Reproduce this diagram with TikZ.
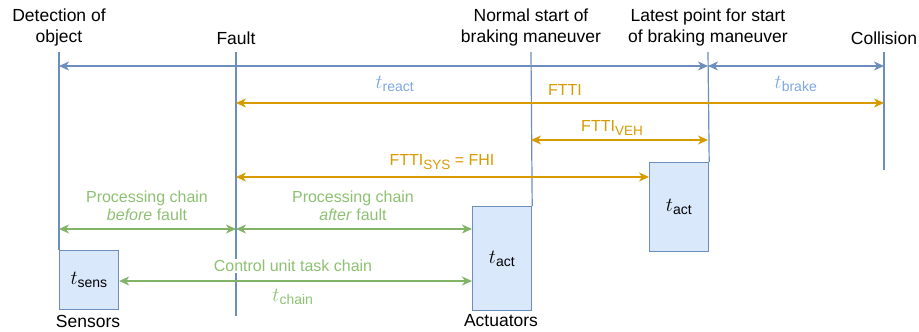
\RequirePackage{fix-cm}
\documentclass[tikz,border=0pt]{standalone}
\usepackage{fontspec}
\setmainfont{Liberation Sans}
\usepackage{amsmath}
\usetikzlibrary{arrows.meta}

\definecolor{lineblue}{HTML}{6C8EBF}
\definecolor{boxblue}{HTML}{DAE8FC}
\definecolor{timeblue}{HTML}{7EA6E0}
\definecolor{fttiorange}{HTML}{D79B00}
\definecolor{chaingreen}{HTML}{82B366}
\definecolor{chaintext}{HTML}{8DC172}

% lowered, slightly smaller index as in FTTI_VEH
\newcommand{\lowidx}[1]{\raisebox{-4pt}{\fontsize{13.5}{14}\selectfont #1}}

\tikzset{
  tip/.tip={Stealth[length=10pt,width=9pt,inset=3pt]},
  timeline/.style={draw=lineblue, line width=1.2pt},
  span/.style={line width=1.2pt, tip-tip},
  unitbox/.style={draw=lineblue, fill=boxblue, line width=1.2pt, anchor=north west,
    minimum width=59pt, inner sep=0pt, font=\fontsize{20}{22}\selectfont},
  event/.style={align=center, font=\fontsize{17.5}{21}\selectfont},
  lbl/.style={align=center, font=\fontsize{16}{18.5}\selectfont},
  timelbl/.style={font=\fontsize{20}{22}\selectfont},
}

\begin{document}
\begin{tikzpicture}[x=1pt, y=-1pt]
  \useasboundingbox (0,0) rectangle (919,332);

  % Boxes for sensors and actuators
  \node[unitbox, minimum height=59pt] (sens) at (59,250) {$t_{\text{sens}}$};
  \node[unitbox, minimum height=104pt] (act) at (472,206) {$t_{\text{act}}$};
  \node[unitbox, minimum height=89pt] (actlate) at (649,162) {$t_{\text{act}}$};

  % Events along the time axis
  \node[event] (detect) at (59,27) {Detection of\\object};
  \node[event] (fault) at (236,38) {Fault};
  \node[event] (normal) at (531,27) {Normal start of\\braking maneuver};
  \node[event] (latest) at (708,27) {Latest point for start\\of braking maneuver};
  \node[event] (collision) at (884,38) {Collision};

  \coordinate (dtop) at (59,52);
  \coordinate (ftop) at (236,52);
  \coordinate (fbot) at (236,316);
  \coordinate (ntop) at (531,52);
  \coordinate (ltop) at (708,52);
  \coordinate (ctop) at (884,52);
  \coordinate (cbot) at (884,170);

  % Levels of the arrows
  \coordinate (lvreact) at (0,66);
  \coordinate (lvftti) at (0,103);
  \coordinate (lvveh) at (0,140);
  \coordinate (lvsys) at (0,177);
  \coordinate (lvproc) at (0,229);
  \coordinate (lvtask) at (0,281);

  \draw[timeline] (dtop) -- (sens.north west);
  \draw[timeline] (ftop) -- (fbot);
  \draw[timeline] (ntop) -- (act.north east);
  \draw[timeline] (ltop) -- (actlate.north east);
  \draw[timeline] (ctop) -- (cbot);

  % Reaction and braking time
  \draw[span, lineblue] (dtop |- lvreact) -- (ltop |- lvreact);
  \draw[span, lineblue] (ltop |- lvreact) -- (ctop |- lvreact);
  \node[timelbl, text=timeblue] (treact) at (395,84) {$t_{\text{react}}$};
  \node[timelbl, text=timeblue] (tbrake) at (796,84) {$t_{\text{brake}}$};

  % Fault tolerant time intervals
  \draw[span, fttiorange] (ftop |- lvftti) -- (ctop |- lvftti);
  \draw[span, fttiorange] (ntop |- lvveh) -- (ltop |- lvveh);
  \draw[span, fttiorange] (ftop |- lvsys) -- (actlate.west |- lvsys);
  \node[lbl, text=fttiorange] (ftti) at (565,90) {FTTI};
  \node[lbl, text=fttiorange] (fttiveh) at (612,128) {FTTI\lowidx{VEH}};
  \node[lbl, text=fttiorange] (fttisys) at (442,162) {FTTI\lowidx{SYS} = FHI};

  % Processing chains
  \draw[span, chaingreen] (dtop |- lvproc) -- (ftop |- lvproc);
  \draw[span, chaingreen] (ftop |- lvproc) -- (act.west |- lvproc);
  \node[lbl, text=chaintext] (before) at (147,206) {Processing chain\\\textit{before} fault};
  \node[lbl, text=chaintext] (after) at (353,206) {Processing chain\\\textit{after} fault};

  \node[lbl, text=chaintext, fill=white, inner sep=1pt] (task) at (293,266) {Control unit task chain};
  \draw[span, chaingreen] (sens.east |- lvtask) -- (act.west |- lvtask);
  \node[timelbl, text=chaintext] (tchain) at (293,297) {$t_{\text{chain}}$};

  \node[event] (sensors) at (88,321) {Sensors};
  \node[event] (actuators) at (501,321) {Actuators};
\end{tikzpicture}
\end{document}
